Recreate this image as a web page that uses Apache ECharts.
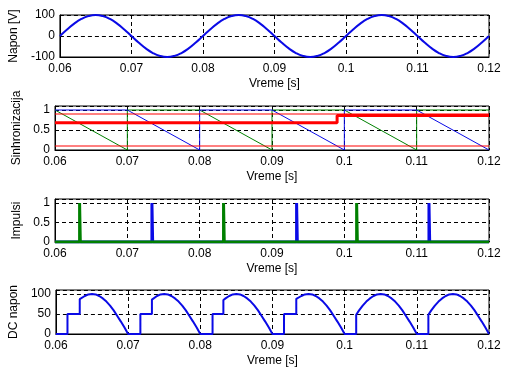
<!DOCTYPE html>
<html><head><meta charset="utf-8">
<script src="https://cdn.jsdelivr.net/npm/echarts@6/dist/echarts.min.js"></script>
<style>html,body{margin:0;padding:0;background:#fff}#c{width:513px;height:374px}</style>
</head><body><div id="c"></div>
<script>
// ---- Panel 1: Napon [V] ----
const naponTime = [0.060,0.061,0.062,0.063,0.064,0.065,0.066,0.067,0.068,0.069,
  0.070,0.071,0.072,0.073,0.074,0.075,0.076,0.077,0.078,0.079,
  0.080,0.081,0.082,0.083,0.084,0.085,0.086,0.087,0.088,0.089,
  0.090,0.091,0.092,0.093,0.094,0.095,0.096,0.097,0.098,0.099,
  0.100,0.101,0.102,0.103,0.104,0.105,0.106,0.107,0.108,0.109,
  0.110,0.111,0.112,0.113,0.114,0.115,0.116,0.117,0.118,0.119,0.120];
const naponValue = [0,31,59,81,95,100,95,81,59,31,0,-31,-59,-81,-95,-100,-95,-81,-59,-31,
  0,31,59,81,95,100,95,81,59,31,0,-31,-59,-81,-95,-100,-95,-81,-59,-31,
  0,31,59,81,95,100,95,81,59,31,0,-31,-59,-81,-95,-100,-95,-81,-59,-31,0];

// ---- Panel 2: Sinhronizacija ----
const greenSawTime = [0.06,0.07,0.07,0.08,0.09,0.09,0.10,0.11,0.11,0.12];
const greenSawValue = [1,0,1,1,0,1,1,0,1,1];
const blueSawTime = [0.06,0.07,0.08,0.08,0.09,0.10,0.10,0.11,0.12];
const blueSawValue = [1,1,0,1,1,0,1,1,0];
const limitTime = [0.06,0.12];
const upperLimit = [0.9,0.9];
const lowerLimit = [0.1,0.1];
const controlTime = [0.06,0.099,0.099,0.12];
const controlValue = [0.68,0.68,0.86,0.86];

// ---- Panel 3: Impulsi ----
const greenPulseTimes = [0.0634,0.0833,0.1017];
const bluePulseTimes = [0.0734,0.0934,0.1117];
const pulseDuration = 0.0001;
const pulseHeight = 1;

// ---- Panel 4: DC napon ----
const dcTime = [
  0.0600,0.0616,0.0616,0.0633,0.0633,0.0635,0.0640,0.0645,0.0650,0.0655,0.0660,0.0665,0.0670,0.0675,0.0680,0.0685,0.0690,0.0695,0.0700,
  0.0717,0.0717,0.0733,0.0733,0.0735,0.0740,0.0745,0.0750,0.0755,0.0760,0.0765,0.0770,0.0775,0.0780,0.0785,0.0790,0.0795,0.0800,
  0.0817,0.0817,0.0832,0.0832,0.0835,0.0840,0.0845,0.0850,0.0855,0.0860,0.0865,0.0870,0.0875,0.0880,0.0885,0.0890,0.0895,0.0900,
  0.0916,0.0916,0.0933,0.0933,0.0935,0.0940,0.0945,0.0950,0.0955,0.0960,0.0965,0.0970,0.0975,0.0980,0.0985,0.0990,0.0995,0.1000,
  0.1016,0.1016,0.1020,0.1025,0.1030,0.1035,0.1040,0.1045,0.1050,0.1055,0.1060,0.1065,0.1070,0.1075,0.1080,0.1085,0.1090,0.1095,0.1100,
  0.1116,0.1116,0.1120,0.1125,0.1130,0.1135,0.1140,0.1145,0.1150,0.1155,0.1160,0.1165,0.1170,0.1175,0.1180,0.1185,0.1190,0.1195,0.1200];
const dcValue = [
  0,0,50,50,87,89,95,99,100,99,95,89,81,71,59,45,31,16,0,
  0,50,50,86,89,95,99,100,99,95,89,81,71,59,45,31,16,0,
  0,50,50,85,89,95,99,100,99,95,89,81,71,59,45,31,16,0,
  0,50,50,88,89,95,99,100,99,95,89,81,71,59,45,31,16,0,
  0,48,59,71,81,89,95,99,100,99,95,89,81,71,59,45,31,16,0,
  0,48,59,71,81,89,95,99,100,99,95,89,81,71,59,45,31,16,0];

// ---- Axes ----
const xMin = 0.06, xMax = 0.12, xStep = 0.01;
const xName = 'Vreme [s]';
const yNames = ['Napon [V]','Sinhronizacija','Impulsi','DC napon'];
const yRanges = [[-100,100,100],[0,1.1,0.5],[0,1.1,0.5],[0,110,50]];
const yShowMax = [100,1,1,100];

const FONT = 'Liberation Sans, Arial, Helvetica, sans-serif';
const BLUE = '#0a0ae6', GREEN = '#008000', RED = '#ff0000';

const pair = (ts, vs) => ts.map((t,i) => [t, vs[i]]);
function pulseTrain(times){
  const pts = [[xMin,0]];
  times.forEach(t => { pts.push([t,0],[t,pulseHeight],[t+pulseDuration,pulseHeight],[t+pulseDuration,0]); });
  pts.push([xMax,0]);
  return pts;
}

const grids = [
  {left:55, right:24, top:15, height:42},
  {left:55, right:24, top:106, height:44},
  {left:55, right:24, top:199, height:43},
  {left:55, right:24, top:290, height:44}
].map(g => Object.assign(g, {show:true, borderColor:'#000', borderWidth:1, backgroundColor:'#fff'}));

const nameGaps = [37,31,31,32];

const xAxes = grids.map((g,i) => ({
  type:'value', gridIndex:i, min:xMin, max:xMax, interval:xStep,
  name:xName, nameLocation:'middle', nameGap:21,
  nameTextStyle:{color:'#000', fontFamily:FONT, fontSize:12},
  axisLine:{show:true, onZero:false, lineStyle:{color:'#000', width:1}},
  axisTick:{show:false},
  axisLabel:{color:'#000', fontFamily:FONT, fontSize:12, margin:6,
    formatter:v => String(Math.round(v*100)/100)},
  splitLine:{show:true, lineStyle:{color:'#000', type:[4,3], width:1}}
}));

const yAxes = grids.map((g,i) => ({
  type:'value', gridIndex:i, min:yRanges[i][0], max:yRanges[i][1], interval:yRanges[i][2],
  name:yNames[i], nameLocation:'middle', nameGap:nameGaps[i],
  nameTextStyle:{color:'#000', fontFamily:FONT, fontSize:12},
  axisLine:{show:true, onZero:false, lineStyle:{color:'#000', width:1}},
  axisTick:{show:false},
  axisLabel:{color:'#000', fontFamily:FONT, fontSize:12, margin:5,
    formatter:v => (v > yShowMax[i] + 1e-9 ? '' : String(v))},
  splitLine:{show:true, lineStyle:{color:'#000', type:[4,3], width:1}}
}));

function line(i, data, color, width, smooth){
  return {type:'line', xAxisIndex:i, yAxisIndex:i, data:data, showSymbol:false, symbol:'none',
    smooth:!!smooth, lineStyle:{color:color, width:width}, itemStyle:{color:color}, clip:true,
    animation:false, silent:true};
}

const series = [
  line(0, pair(naponTime, naponValue), BLUE, 2, true),
  line(1, pair(greenSawTime, greenSawValue), GREEN, 1),
  line(1, pair(blueSawTime, blueSawValue), BLUE, 1),
  line(1, pair(limitTime, upperLimit), RED, 1),
  line(1, pair(limitTime, lowerLimit), RED, 1),
  line(1, pair(controlTime, controlValue), RED, 3),
  line(2, pulseTrain(bluePulseTimes), BLUE, 3),
  line(2, pulseTrain(greenPulseTimes), GREEN, 3),
  line(3, pair(dcTime, dcValue), BLUE, 2)
];

const chart = echarts.init(document.getElementById('c'), null, {renderer:'canvas'});
chart.setOption({animation:false, backgroundColor:'#fff', grid:grids, xAxis:xAxes, yAxis:yAxes, series:series});
</script>
</body></html>
